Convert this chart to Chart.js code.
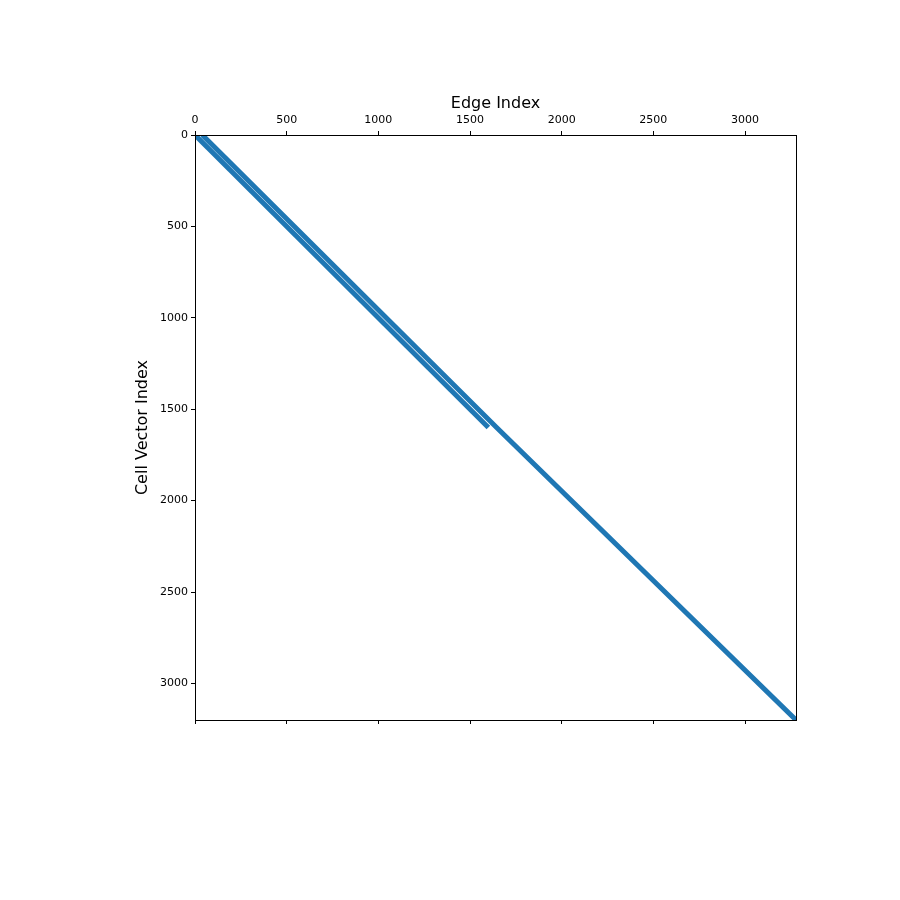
<!DOCTYPE html>
<html>
<head>
<meta charset="utf-8">
<script src="https://cdn.jsdelivr.net/npm/chart.js@4"></script>
<style>
  html, body { margin: 0; padding: 0; background: #fff; }
  #wrap { width: 900px; height: 900px; }
</style>
</head>
<body>
<div id="wrap"><canvas id="c" width="900" height="900"></canvas></div>
<script>
// sparsity pattern (edge index = x, cell index = y)
const mainCols = [0, 1600];
const mainRows = [0, 1600];
const offCols = [40, 1645, 3278];
const offRows = [0, 1600, 3200];
const xTicks = [0, 500, 1000, 1500, 2000, 2500, 3000];
const yTicks = [0, 500, 1000, 1500, 2000, 2500, 3000];
const nCols = 3278;
const nRows = 3200;

const blue = "#1f77b4";
const font = "'DejaVu Sans', sans-serif";

function pts(cols, rows) {
  return cols.map((c, i) => ({ x: c, y: rows[i] }));
}

const frame = {
  id: "frame",
  afterDraw(chart) {
    const { ctx, chartArea: a } = chart;
    ctx.save();
    ctx.strokeStyle = "#000";
    ctx.lineWidth = 1;
    ctx.strokeRect(a.left + 0.5, a.top + 0.5, a.right - a.left, a.bottom - a.top);
    ctx.restore();
  },
};

const tickGrid = {
  display: true,
  drawOnChartArea: false,
  drawTicks: true,
  tickLength: 4,
  tickColor: "#000",
  color: "#000",
};

new Chart(document.getElementById("c").getContext("2d"), {
  type: "line",
  data: {
    datasets: [
      {
        data: pts(mainCols, mainRows),
        borderColor: blue,
        borderWidth: 5,
        pointRadius: 0,
        borderCapStyle: "butt",
      },
      {
        data: pts(offCols, offRows),
        borderColor: blue,
        borderWidth: 5,
        pointRadius: 0,
        borderCapStyle: "butt",
      },
    ],
  },
  options: {
    responsive: false,
    animation: false,
    layout: { padding: { left: 133, top: 94, right: 104, bottom: 170 } },
    plugins: { legend: { display: false }, tooltip: { enabled: false } },
    scales: {
      x: {
        type: "linear",
        position: "top",
        min: 0,
        max: nCols,
        afterBuildTicks: (s) => { s.ticks = xTicks.map((v) => ({ value: v })); },
        afterFit: (s) => { s.height = 41; },
        grid: tickGrid,
        border: { display: true, color: "#000" },
        ticks: { color: "#000", font: { family: font, size: 11 }, padding: 4, maxRotation: 0, callback: (v) => String(v) },
        title: { display: true, text: "Edge Index", color: "#000", font: { family: font, size: 16 }, padding: { top: 0, bottom: 2 } },
      },
      xb: {
        type: "linear",
        position: "bottom",
        min: 0,
        max: nCols,
        afterBuildTicks: (s) => { s.ticks = xTicks.map((v) => ({ value: v })); },
        afterFit: (s) => { s.height = 10; },
        grid: tickGrid,
        border: { display: true, color: "#000" },
        ticks: { display: true, callback: () => "", padding: 0 },
      },
      y: {
        type: "linear",
        reverse: true,
        min: 0,
        max: nRows,
        afterBuildTicks: (s) => { s.ticks = yTicks.map((v) => ({ value: v })); },
        afterFit: (s) => { s.width = 62; },
        grid: tickGrid,
        border: { display: true, color: "#000" },
        ticks: { color: "#000", font: { family: font, size: 11 }, padding: 3, callback: (v) => String(v) },
        title: { display: true, text: "Cell Vector Index", color: "#000", font: { family: font, size: 16 }, padding: { top: 0, bottom: 4 } },
      },
    },
  },
  plugins: [frame],
});
</script>
</body>
</html>
